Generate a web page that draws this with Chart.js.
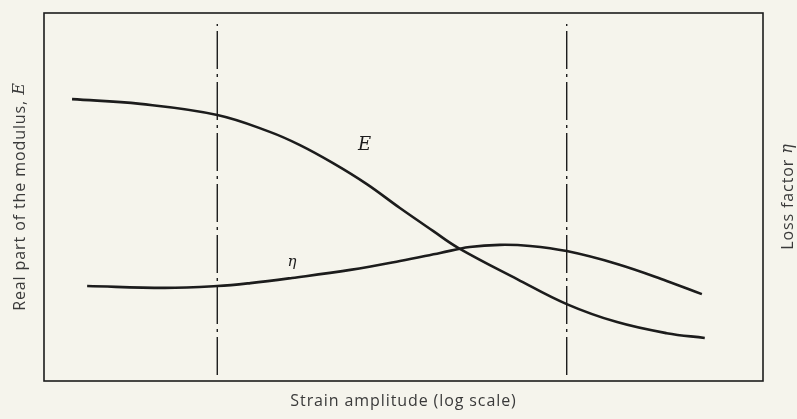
<!DOCTYPE html>
<html>
<head>
<meta charset="utf-8">
<script src="https://cdn.jsdelivr.net/npm/chart.js@4/dist/chart.umd.min.js"></script>
<style>
    html, body { margin: 0; padding: 0; background: #f5f4ec; }
    #wrap { position: relative; width: 797px; height: 419px; }
</style>
</head>
<body>
<div id="wrap"><canvas id="chart" width="797" height="419"></canvas></div>
<script>
// strain amplitude (decades, arbitrary) vs. curve height (arbitrary)
const modulusX = [0.39, 1.34, 2.41, 3.14, 3.56, 4.02, 4.49, 4.95, 5.41, 5.76, 6.58, 7.27, 7.97, 8.66, 9.19];
const modulusY = [7.66, 7.53, 7.23, 6.77, 6.41, 5.92, 5.35, 4.70, 4.08, 3.62, 2.77, 2.09, 1.60, 1.30, 1.17];

const lossX = [0.60, 1.68, 2.41, 2.87, 3.45, 4.26, 4.95, 5.51, 5.92, 6.34, 6.76, 7.27, 7.97, 8.66, 9.15];
const lossY = [2.58, 2.53, 2.58, 2.66, 2.80, 3.02, 3.26, 3.48, 3.64, 3.70, 3.67, 3.53, 3.18, 2.72, 2.36];

// dash-dot markers
const markerX = [2.41, 7.27];
const markerY = [0.16, 9.70];

// axis titles: [plain part, italic symbol]
const xTitle = ['Strain amplitude (log scale)', ''];
const yTitle = ['Real part of the modulus, ', 'E'];
const y2Title = ['Loss factor ', 'η'];
const curveLabels = [
    { text: 'E', x: 4.46, y: 6.41, size: 18 },
    { text: 'η', x: 3.45, y: 3.24, size: 15 }
];

const ink = '#1c1c1c';
const labelFont = '16px "Open Sans"';
const symbolFont = 'italic 16px "DejaVu Serif", "Liberation Serif", serif';

function toPoints(xs, ys) {
    return xs.map((x, i) => ({ x: x, y: ys[i] }));
}

const datasets = [
    {
        data: toPoints(modulusX, modulusY),
        borderColor: ink,
        borderWidth: 2.6,
        tension: 0.4,
        pointRadius: 0
    },
    {
        data: toPoints(lossX, lossY),
        borderColor: ink,
        borderWidth: 2.6,
        tension: 0.4,
        pointRadius: 0
    }
];

markerX.forEach(mx => {
    datasets.push({
        data: [{ x: mx, y: markerY[0] }, { x: mx, y: markerY[1] }],
        borderColor: ink,
        borderWidth: 1.4,
        borderDash: [38, 5, 3, 5],
        pointRadius: 0
    });
});

// draws "plain + italic" centred on (0,0) of current transform
function drawTitle(ctx, parts) {
    ctx.letterSpacing = '0.9px';
    ctx.font = labelFont;
    const w1 = ctx.measureText(parts[0]).width;
    ctx.letterSpacing = '0px';
    ctx.font = symbolFont;
    const w2 = parts[1] ? ctx.measureText(parts[1]).width : 0;
    let x = -(w1 + w2) / 2;
    ctx.textAlign = 'left';
    ctx.letterSpacing = '0.9px';
    ctx.font = labelFont;
    ctx.fillText(parts[0], x, 0);
    if (parts[1]) {
        ctx.letterSpacing = '0px';
        ctx.font = symbolFont;
        ctx.fillText(parts[1], x + w1, 0);
    }
}

// frame, axis titles and curve labels
const decorations = {
    id: 'decorations',
    afterDraw(chart) {
        const ctx = chart.ctx;
        const a = chart.chartArea;
        const xs = chart.scales.x;
        const ys = chart.scales.y;
        ctx.save();
        ctx.strokeStyle = ink;
        ctx.lineWidth = 1.6;
        ctx.strokeRect(a.left, a.top, a.right - a.left, a.bottom - a.top);

        ctx.fillStyle = '#3a3a3a';
        ctx.textBaseline = 'middle';

        ctx.save();
        ctx.translate((a.left + a.right) / 2, 401);
        drawTitle(ctx, xTitle);
        ctx.restore();

        const midY = (a.top + a.bottom) / 2;
        ctx.save();
        ctx.translate(20, midY);
        ctx.rotate(-Math.PI / 2);
        drawTitle(ctx, yTitle);
        ctx.restore();

        ctx.save();
        ctx.translate(788, midY);
        ctx.rotate(-Math.PI / 2);
        drawTitle(ctx, y2Title);
        ctx.restore();

        ctx.fillStyle = ink;
        ctx.textAlign = 'center';
        ctx.letterSpacing = '0px';
        curveLabels.forEach(l => {
            ctx.font = 'italic ' + l.size + 'px "DejaVu Serif", "Liberation Serif", serif';
            ctx.fillText(l.text, xs.getPixelForValue(l.x), ys.getPixelForValue(l.y));
        });
        ctx.restore();
    }
};

new Chart(document.getElementById('chart'), {
    type: 'line',
    data: { datasets: datasets },
    options: {
        responsive: false,
        animation: false,
        layout: { padding: { left: 44, top: 13, right: 34, bottom: 38 } },
        scales: {
            x: { type: 'linear', min: 0, max: 10, display: false },
            y: { type: 'linear', min: 0, max: 10, display: false }
        },
        plugins: {
            legend: { display: false },
            tooltip: { enabled: false }
        }
    },
    plugins: [decorations]
});
</script>
</body>
</html>
